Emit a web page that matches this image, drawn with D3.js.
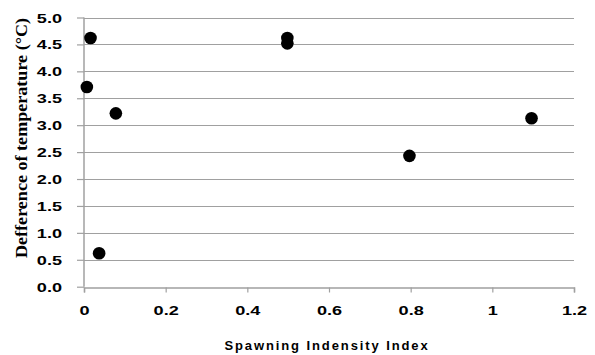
<!DOCTYPE html>
<html>
<head>
<meta charset="utf-8">
<script src="https://cdn.jsdelivr.net/npm/d3@7"></script>
<style>
  body { margin: 0; background: #fff; }
</style>
</head>
<body>
<svg id="chart"></svg>
<script>
// spawning index vs temperature difference
const xValues = [0.007, 0.016, 0.037, 0.078, 0.498, 0.498, 0.797, 1.096];
const yValues = [3.71, 4.62, 0.62, 3.22, 4.62, 4.52, 2.43, 3.13];
const xTicks = [0, 0.2, 0.4, 0.6, 0.8, 1, 1.2];
const yTicks = [0, 0.5, 1, 1.5, 2, 2.5, 3, 3.5, 4, 4.5, 5];
const xTitle = "Spawning Indensity Index";
const yTitle = "Defference of temperature (\u00B0C)";

const width = 595, height = 355;
const margin = { left: 84, right: 21, top: 17.5, bottom: 68.3 };

const svg = d3.select("#chart")
  .attr("width", width)
  .attr("height", height);

const x = d3.scaleLinear().domain([0, 1.2]).range([margin.left, width - margin.right]);
const y = d3.scaleLinear().domain([0, 5]).range([height - margin.bottom, margin.top]);

// horizontal gridlines
svg.append("g")
  .selectAll("line")
  .data(yTicks.filter(d => d > 0))
  .enter()
  .append("line")
  .attr("x1", margin.left)
  .attr("x2", width - margin.right)
  .attr("y1", d => Math.round(y(d)) + 0.5)
  .attr("y2", d => Math.round(y(d)) + 0.5)
  .attr("stroke", "#a0a0a0")
  .attr("stroke-width", 1.2);

// y axis
const yAxis = svg.append("g")
  .attr("transform", `translate(${margin.left},0)`)
  .call(d3.axisLeft(y).tickValues(yTicks).tickSize(6).tickFormat(d3.format(".1f")));

// x axis
const xAxis = svg.append("g")
  .attr("transform", `translate(0,${Math.round(y(0)) + 0.5})`)
  .call(d3.axisBottom(x).tickValues(xTicks).tickSize(5).tickPadding(14).tickFormat(d => String(d)));

[yAxis, xAxis].forEach(g => {
  g.select(".domain").attr("stroke", "#a0a0a0").attr("stroke-width", 1.5);
  g.selectAll(".tick line").attr("stroke", "#a0a0a0").attr("stroke-width", 1.2);
  g.selectAll(".tick text")
    .attr("fill", "#000")
    .attr("font-family", "Liberation Sans, Arial, sans-serif")
    .attr("font-weight", "bold")
    .attr("font-size", 12.5);
});
yAxis.select(".domain").attr("d", `M0,${y(5)}V${y(0)}`);
yAxis.selectAll(".tick line").attr("x2", -7);
// the labels in the picture are drawn wide, so stretch them sideways
yAxis.selectAll(".tick text")
  .attr("x", 0)
  .attr("dy", "0.36em")
  .attr("transform", "translate(-22,0) scale(1.45,1)");
xAxis.selectAll(".tick text")
  .attr("transform", "scale(1.45,1)");

// points
svg.append("g")
  .selectAll("circle")
  .data(xValues.map((d, i) => [d, yValues[i]]))
  .enter()
  .append("circle")
  .attr("cx", d => x(d[0]))
  .attr("cy", d => y(d[1]))
  .attr("r", 6.3)
  .attr("fill", "#000");

// axis titles
svg.append("text")
  .attr("x", 327)
  .attr("y", 350)
  .attr("text-anchor", "middle")
  .attr("font-family", "Liberation Sans, Arial, sans-serif")
  .attr("font-weight", "bold")
  .attr("font-size", 13)
  .attr("letter-spacing", 1.9)
  .text(xTitle);

svg.append("text")
  .attr("transform", "translate(27,138) rotate(-90)")
  .attr("text-anchor", "middle")
  .attr("font-family", "Liberation Serif, Times New Roman, serif")
  .attr("font-weight", "bold")
  .attr("font-size", 16.5)
  .attr("textLength", 240)
  .attr("lengthAdjust", "spacingAndGlyphs")
  .text(yTitle);
</script>
</body>
</html>
